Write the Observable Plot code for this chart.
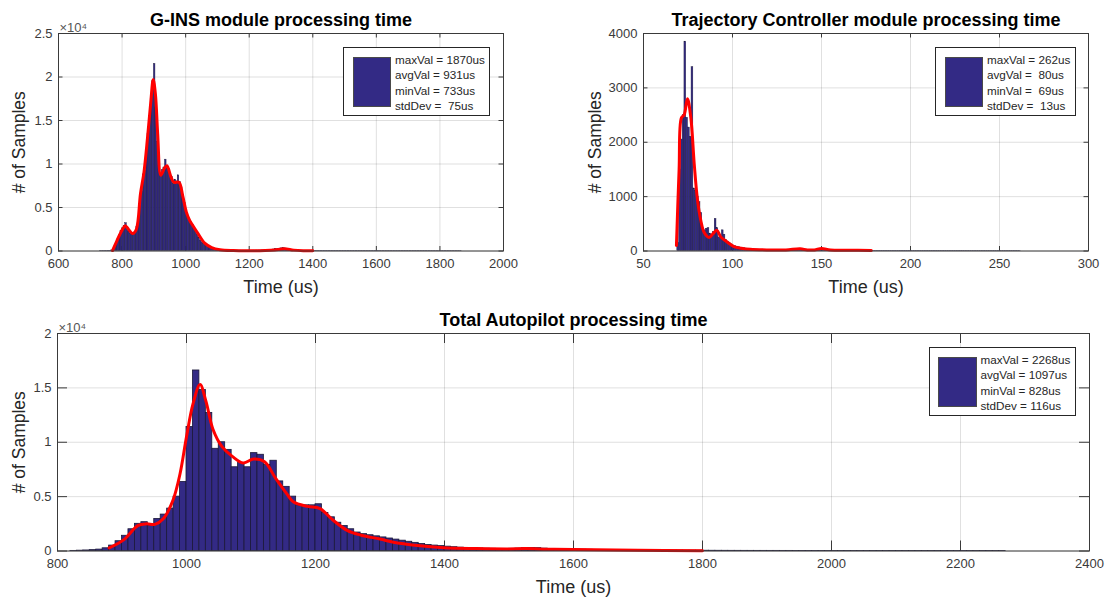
<!DOCTYPE html>
<html><head><meta charset="utf-8">
<script src="https://cdn.jsdelivr.net/npm/d3@7"></script>
<script src="https://cdn.jsdelivr.net/npm/@observablehq/plot@0.6"></script>
<style>
html,body{margin:0;padding:0;background:#fff;}
#root{position:relative;width:1108px;height:599px;overflow:hidden;font-family:"Liberation Sans",Arial,sans-serif;}
.legend{position:absolute;border:1px solid #262626;background:#fff;box-sizing:border-box;}
.legend .sw{position:absolute;background:#332a85;border:1px solid #4a4a4a;box-sizing:border-box;}
.legend .tx{position:absolute;font-size:11.7px;line-height:15.4px;color:#262626;white-space:pre;}
</style></head><body><div id="root"></div>
<script>
// ---------- Panel titles / labels ----------
const titles = ["G-INS module processing time", "Trajectory Controller module processing time", "Total Autopilot processing time"];
const xLabel = "Time (us)";
const yLabel = "# of Samples";
const expLabel = "×10⁴";

// ---------- Ticks ----------
const xTicks1 = [600, 800, 1000, 1200, 1400, 1600, 1800, 2000];
const yTicks1 = [0, 5000, 10000, 15000, 20000, 25000];
const yTickLabels1 = ["0", "0.5", "1", "1.5", "2", "2.5"];
const xTicks2 = [50, 100, 150, 200, 250, 300];
const yTicks2 = [0, 1000, 2000, 3000, 4000];
const yTickLabels2 = ["0", "1000", "2000", "3000", "4000"];
const xTicks3 = [800, 1000, 1200, 1400, 1600, 1800, 2000, 2200, 2400];
const yTicks3 = [0, 5000, 10000, 15000, 20000];
const yTickLabels3 = ["0", "0.5", "1", "1.5", "2"];

// ---------- Legends ----------
const legend1 = ["maxVal = 1870us", "avgVal = 931us", "minVal = 733us", "stdDev =  75us"];
const legend2 = ["maxVal = 262us", "avgVal =  80us", "minVal =  69us", "stdDev =  13us"];
const legend3 = ["maxVal = 2268us", "avgVal = 1097us", "minVal = 828us", "stdDev = 116us"];

// ---------- G-INS histogram (bin start, bin width, counts) ----------
const gStart = 730, gWidth = 5;
const gCounts = [
  5, 5, 10, 10, 15, 20, 30, 60,
  150, 400, 800, 1300, 1800, 2300,
  2600, 2900, 3200, 2700, 2200, 2000, 1900, 1950,
  2200, 2800, 3800, 5200, 6800, 8800, 9200, 11500,
  13500, 15500, 17500, 19500, 21500, 16500, 12500, 9800,
  8700, 9300, 9600, 10500, 9700, 9400, 8800, 8500,
  7700, 8200, 8000, 8700, 7900, 7300, 6500, 5500,
  4600, 3900, 3500, 3300, 3000, 2700, 2300, 1900,
  1500, 1200, 1000, 850, 700, 600, 500, 420,
  350, 300, 250, 200, 170, 150, 130, 110,
  100, 90, 80, 70, 65, 60, 55, 50,
  50, 45, 45, 40, 40, 40, 40, 40,
  40, 40, 45, 45, 50, 50, 55, 60,
  65, 70, 80, 90, 100, 120, 140, 170,
  200, 230, 260, 280, 300, 320, 300, 270,
  230, 190, 150, 120, 100, 80, 60, 50,
  40, 35, 30, 30, 25, 25, 20, 20,
  20, 18, 18, 16, 16, 15, 15, 14,
  14, 13, 13, 12, 12, 12, 11, 11,
  10, 10, 10, 10, 9, 9, 9, 9,
  8, 8, 8, 8, 8, 7, 7, 7,
  7, 7, 6, 6, 6, 6, 6, 6,
  5, 5, 5, 5, 5, 5, 5, 5,
  5, 4, 4, 4, 4, 4, 4, 4,
  4, 4, 4, 3, 3, 3, 3, 3,
  3, 3, 3, 3, 3, 3, 3, 3,
  2, 2, 2, 2, 2, 2, 2, 2,
  2, 2, 2, 2, 2, 2, 2, 2,
  1, 1, 1, 1, 1, 1
];
const gFitX = [770, 784, 800, 810, 820, 834, 845, 858, 869, 880, 890, 898, 905, 912, 922, 933, 941, 954, 963, 979, 991, 1002, 1013, 1023, 1039, 1060, 1082, 1108, 1150, 1200, 1250, 1280, 1310, 1340, 1370, 1400];
const gFitY = [50, 1200, 2400, 2900, 2500, 2000, 2500, 6600, 9100, 13000, 17000, 19700, 18000, 13500, 8700, 9500, 9800, 8500, 7900, 7900, 6300, 4500, 3500, 2900, 2000, 900, 400, 150, 50, 30, 60, 120, 250, 100, 40, 30];

// ---------- Trajectory Controller histogram ----------
const tStart = 69, tWidth = 1;
const tCounts = [
  150, 1500, 2050, 2500, 3850, 2450, 2270, 2100, 3380, 1150, 1100,
  1000, 900, 700, 400, 380, 410, 420, 320, 300, 350,
  590, 420, 250, 260, 380, 300, 200, 170, 140, 120,
  100, 90, 80, 70, 60, 55, 50, 45, 40, 35,
  30, 30, 28, 26, 25, 24, 22, 20, 20, 18,
  18, 17, 16, 15, 15, 14, 14, 13, 13, 12,
  12, 12, 11, 11, 12, 14, 18, 25, 35, 30,
  25, 18, 15, 13, 12, 12, 13, 15, 20, 30,
  40, 30, 20, 14, 12, 10, 10, 9, 9, 8,
  8, 8, 7, 7, 7, 6, 6, 6, 6, 5,
  5, 5, 5, 5, 5, 5, 4, 4, 4, 4,
  3, 3, 3, 3, 3, 3, 3, 3, 3, 3,
  3, 3, 3, 3, 3, 3, 3, 3, 3, 3,
  2, 2, 2, 2, 2, 2, 2, 2, 2, 2,
  2, 2, 2, 2, 2, 2, 2, 2, 2, 2,
  2, 2, 2, 2, 2, 2, 2, 2, 2, 2,
  1, 1, 1, 1, 1, 1, 1, 1, 1, 1,
  1, 1, 1, 1, 1, 1, 1, 1, 1, 1,
  1, 1, 1, 1, 1, 1, 1, 1, 1, 1,
  1, 1
];
const tFitX = [68.5, 70, 71.3, 72.8, 74.7, 76.6, 78.5, 80.3, 82.2, 84.1, 86.9, 88.8, 91.2, 93.4, 97.2, 100.9, 105, 110, 120, 130, 138, 142, 146, 150, 155, 165, 178];
const tFitY = [100, 1500, 2450, 2500, 2800, 2450, 1600, 950, 560, 340, 250, 310, 380, 260, 160, 80, 50, 30, 20, 20, 40, 20, 20, 45, 20, 15, 10];

// ---------- Total Autopilot histogram ----------
const aStart = 820, aWidth = 10;
const aCounts = [
  10, 30, 50, 80, 130, 250, 500, 900,
  1400, 2000, 2500, 2650, 2350, 2950, 3350, 3900,
  5000, 6350, 11400, 16600, 14800, 12700, 9400, 10000,
  9300, 7700, 8100, 7700, 9000, 8850, 7900, 8300,
  6400, 5900, 5000, 4200, 4200, 4200, 4300, 3500,
  3100, 2600, 2300, 2000, 1700, 1550, 1450, 1350,
  1250, 1150, 1050, 950, 850, 750, 650, 560,
  500, 450, 400, 350, 310, 280, 250, 230,
  210, 200, 190, 190, 200, 220, 260, 280,
  260, 220, 190, 170, 150, 140, 130, 120,
  110, 100, 95, 90, 85, 80, 75, 70,
  65, 60, 55, 50, 45, 40, 38, 35,
  32, 30, 25, 22, 20, 18, 16, 15,
  14, 13, 12, 12, 11, 11, 10, 10,
  9, 9, 9, 8, 8, 8, 7, 7,
  7, 7, 6, 6, 6, 6, 5, 5,
  5, 5, 5, 5, 4, 4, 4, 4,
  4, 3, 3, 3, 3, 3, 2, 2,
  2
];
const aFitX = [880, 902, 925, 938, 951, 964, 979, 990, 1000, 1010, 1021, 1030, 1041, 1055, 1071, 1088, 1104, 1121, 1138, 1155, 1166, 1188, 1207, 1227, 1249, 1271, 1300, 1321, 1350, 1398, 1450, 1500, 1526, 1560, 1600, 1700, 1800];
const aFitY = [280, 1000, 2350, 2500, 2450, 2960, 4660, 7100, 10500, 13500, 15300, 13800, 11200, 9600, 8700, 8100, 8450, 8200, 6700, 5300, 4500, 4100, 3900, 2850, 1900, 1450, 1100, 800, 550, 300, 220, 190, 220, 170, 130, 70, 20];

// ---------- Drawing ----------
const FONT = "Liberation Sans, Arial, Helvetica, sans-serif";
const BAR_FILL = "#332a85";
const root = document.getElementById("root");

function toBins(start, width, counts) {
  return counts.map((n, i) => ({x0: start + i * width, x1: start + (i + 1) * width, n}));
}
function toPts(xs, ys) { return xs.map((x, i) => ({x, y: ys[i]})); }

function panel(o) {
  const iw = o.W - o.ml - o.mr, ih = o.H - o.mt - o.mb;
  const L = o.tick;
  const tickStroke = "#3a3a3a";
  const svg = Plot.plot({
    width: o.W, height: o.H,
    marginLeft: o.ml, marginRight: o.mr, marginTop: o.mt, marginBottom: o.mb,
    style: {fontFamily: FONT, fontSize: "13px", color: "#3a3a3a", background: "transparent", overflow: "visible"},
    x: {domain: o.xDomain, ticks: o.xTicks},
    y: {domain: o.yDomain, ticks: o.yTicks},
    marks: [
      Plot.gridX(o.xTicks, {stroke: "#262626", strokeOpacity: 0.14}),
      Plot.gridY(o.yTicks, {stroke: "#262626", strokeOpacity: 0.14}),
      Plot.tickX(o.xTicks, {x: d => d, insetTop: ih - L, stroke: tickStroke}),
      Plot.tickX(o.xTicks, {x: d => d, insetBottom: ih - L, stroke: tickStroke}),
      Plot.tickY(o.yTicks, {y: d => d, insetRight: iw - L, stroke: tickStroke}),
      Plot.tickY(o.yTicks, {y: d => d, insetLeft: iw - L, stroke: tickStroke}),
      Plot.rectY(o.bins, {x1: "x0", x2: "x1", y: "n", fill: BAR_FILL, stroke: "#1b1838", strokeWidth: o.barStroke}),
      Plot.line(o.fit, {x: "x", y: "y", stroke: "#ff0000", strokeWidth: 3, curve: "catmull-rom"}),
      Plot.axisX({ticks: o.xTicks, tickSize: 0, tickPadding: 8, label: null, fontSize: 13, fill: "#3a3a3a",
                  tickFormat: d => String(d)}),
      Plot.axisY({ticks: o.yTicks, tickSize: 0, tickPadding: 6, label: null, fontSize: 13, fill: "#3a3a3a",
                  tickFormat: d => o.yLabels[o.yTicks.indexOf(d)]}),
      Plot.frame({stroke: "#3a3a3a", strokeWidth: 1}),
      Plot.text([o.title], {frameAnchor: "top", dy: -13, textAnchor: "middle", lineAnchor: "middle",
                            fontWeight: "bold", fontSize: 18, fill: "#000"}),
      Plot.text([xLabel], {frameAnchor: "bottom", dy: 36.5, textAnchor: "middle", lineAnchor: "middle",
                           fontSize: 18, fill: "#262626"}),
      Plot.text([yLabel], {frameAnchor: "left", dx: o.ylDx, rotate: -90, textAnchor: "middle", lineAnchor: "middle",
                           fontSize: 17.5, fill: "#262626"}),
      ...(o.exp ? [Plot.text([expLabel], {frameAnchor: "top-left", dx: 1, dy: -6, textAnchor: "start", lineAnchor: "middle",
                           fontSize: 13, fill: "#555"})] : [])
    ]
  });
  svg.style.position = "absolute";
  svg.style.left = o.left + "px";
  svg.style.top = o.top + "px";
  root.appendChild(svg);

  const lg = document.createElement("div");
  lg.className = "legend";
  Object.assign(lg.style, {left: o.lg.left + "px", top: o.lg.top + "px", width: o.lg.w + "px", height: "69.5px"});
  const sw = document.createElement("div");
  sw.className = "sw";
  Object.assign(sw.style, {left: o.lg.sw + "px", top: "9.5px", width: "38.5px", height: "50px"});
  lg.appendChild(sw);
  const tx = document.createElement("div");
  tx.className = "tx";
  Object.assign(tx.style, {left: o.lg.tx + "px", top: "4.5px"});
  tx.textContent = o.lg.lines.join("\n");
  lg.appendChild(tx);
  root.appendChild(lg);
}

panel({left: 0, top: 0, W: 560, H: 300, ml: 58, mr: 57, mt: 33, mb: 49.5, tick: 4.5,
  xDomain: [600, 2000], yDomain: [0, 25000], xTicks: xTicks1, yTicks: yTicks1, yLabels: yTickLabels1,
  bins: toBins(gStart, gWidth, gCounts), fit: toPts(gFitX, gFitY), barStroke: 0.4,
  title: titles[0], ylDx: -39.5, exp: true,
  lg: {left: 343, top: 46.5, w: 147, sw: 8.5, tx: 51, lines: legend1}});

panel({left: 560, top: 0, W: 548, H: 300, ml: 83, mr: 20, mt: 33, mb: 49.5, tick: 4.5,
  xDomain: [50, 300], yDomain: [0, 4000], xTicks: xTicks2, yTicks: yTicks2, yLabels: yTickLabels2,
  bins: toBins(tStart, tWidth, tCounts), fit: toPts(tFitX, tFitY), barStroke: 0.4,
  title: titles[1], ylDx: -48, exp: false,
  lg: {left: 935, top: 46.5, w: 141, sw: 8.5, tx: 51, lines: legend2}});

panel({left: 0, top: 300, W: 1108, H: 299, ml: 57, mr: 19, mt: 33, mb: 48.5, tick: 10,
  xDomain: [800, 2400], yDomain: [0, 20000], xTicks: xTicks3, yTicks: yTicks3, yLabels: yTickLabels3,
  bins: toBins(aStart, aWidth, aCounts), fit: toPts(aFitX, aFitY), barStroke: 0.8,
  title: titles[2], ylDx: -38.5, exp: true,
  lg: {left: 929, top: 346.5, w: 147, sw: 8, tx: 50.5, lines: legend3}});
</script></body></html>
